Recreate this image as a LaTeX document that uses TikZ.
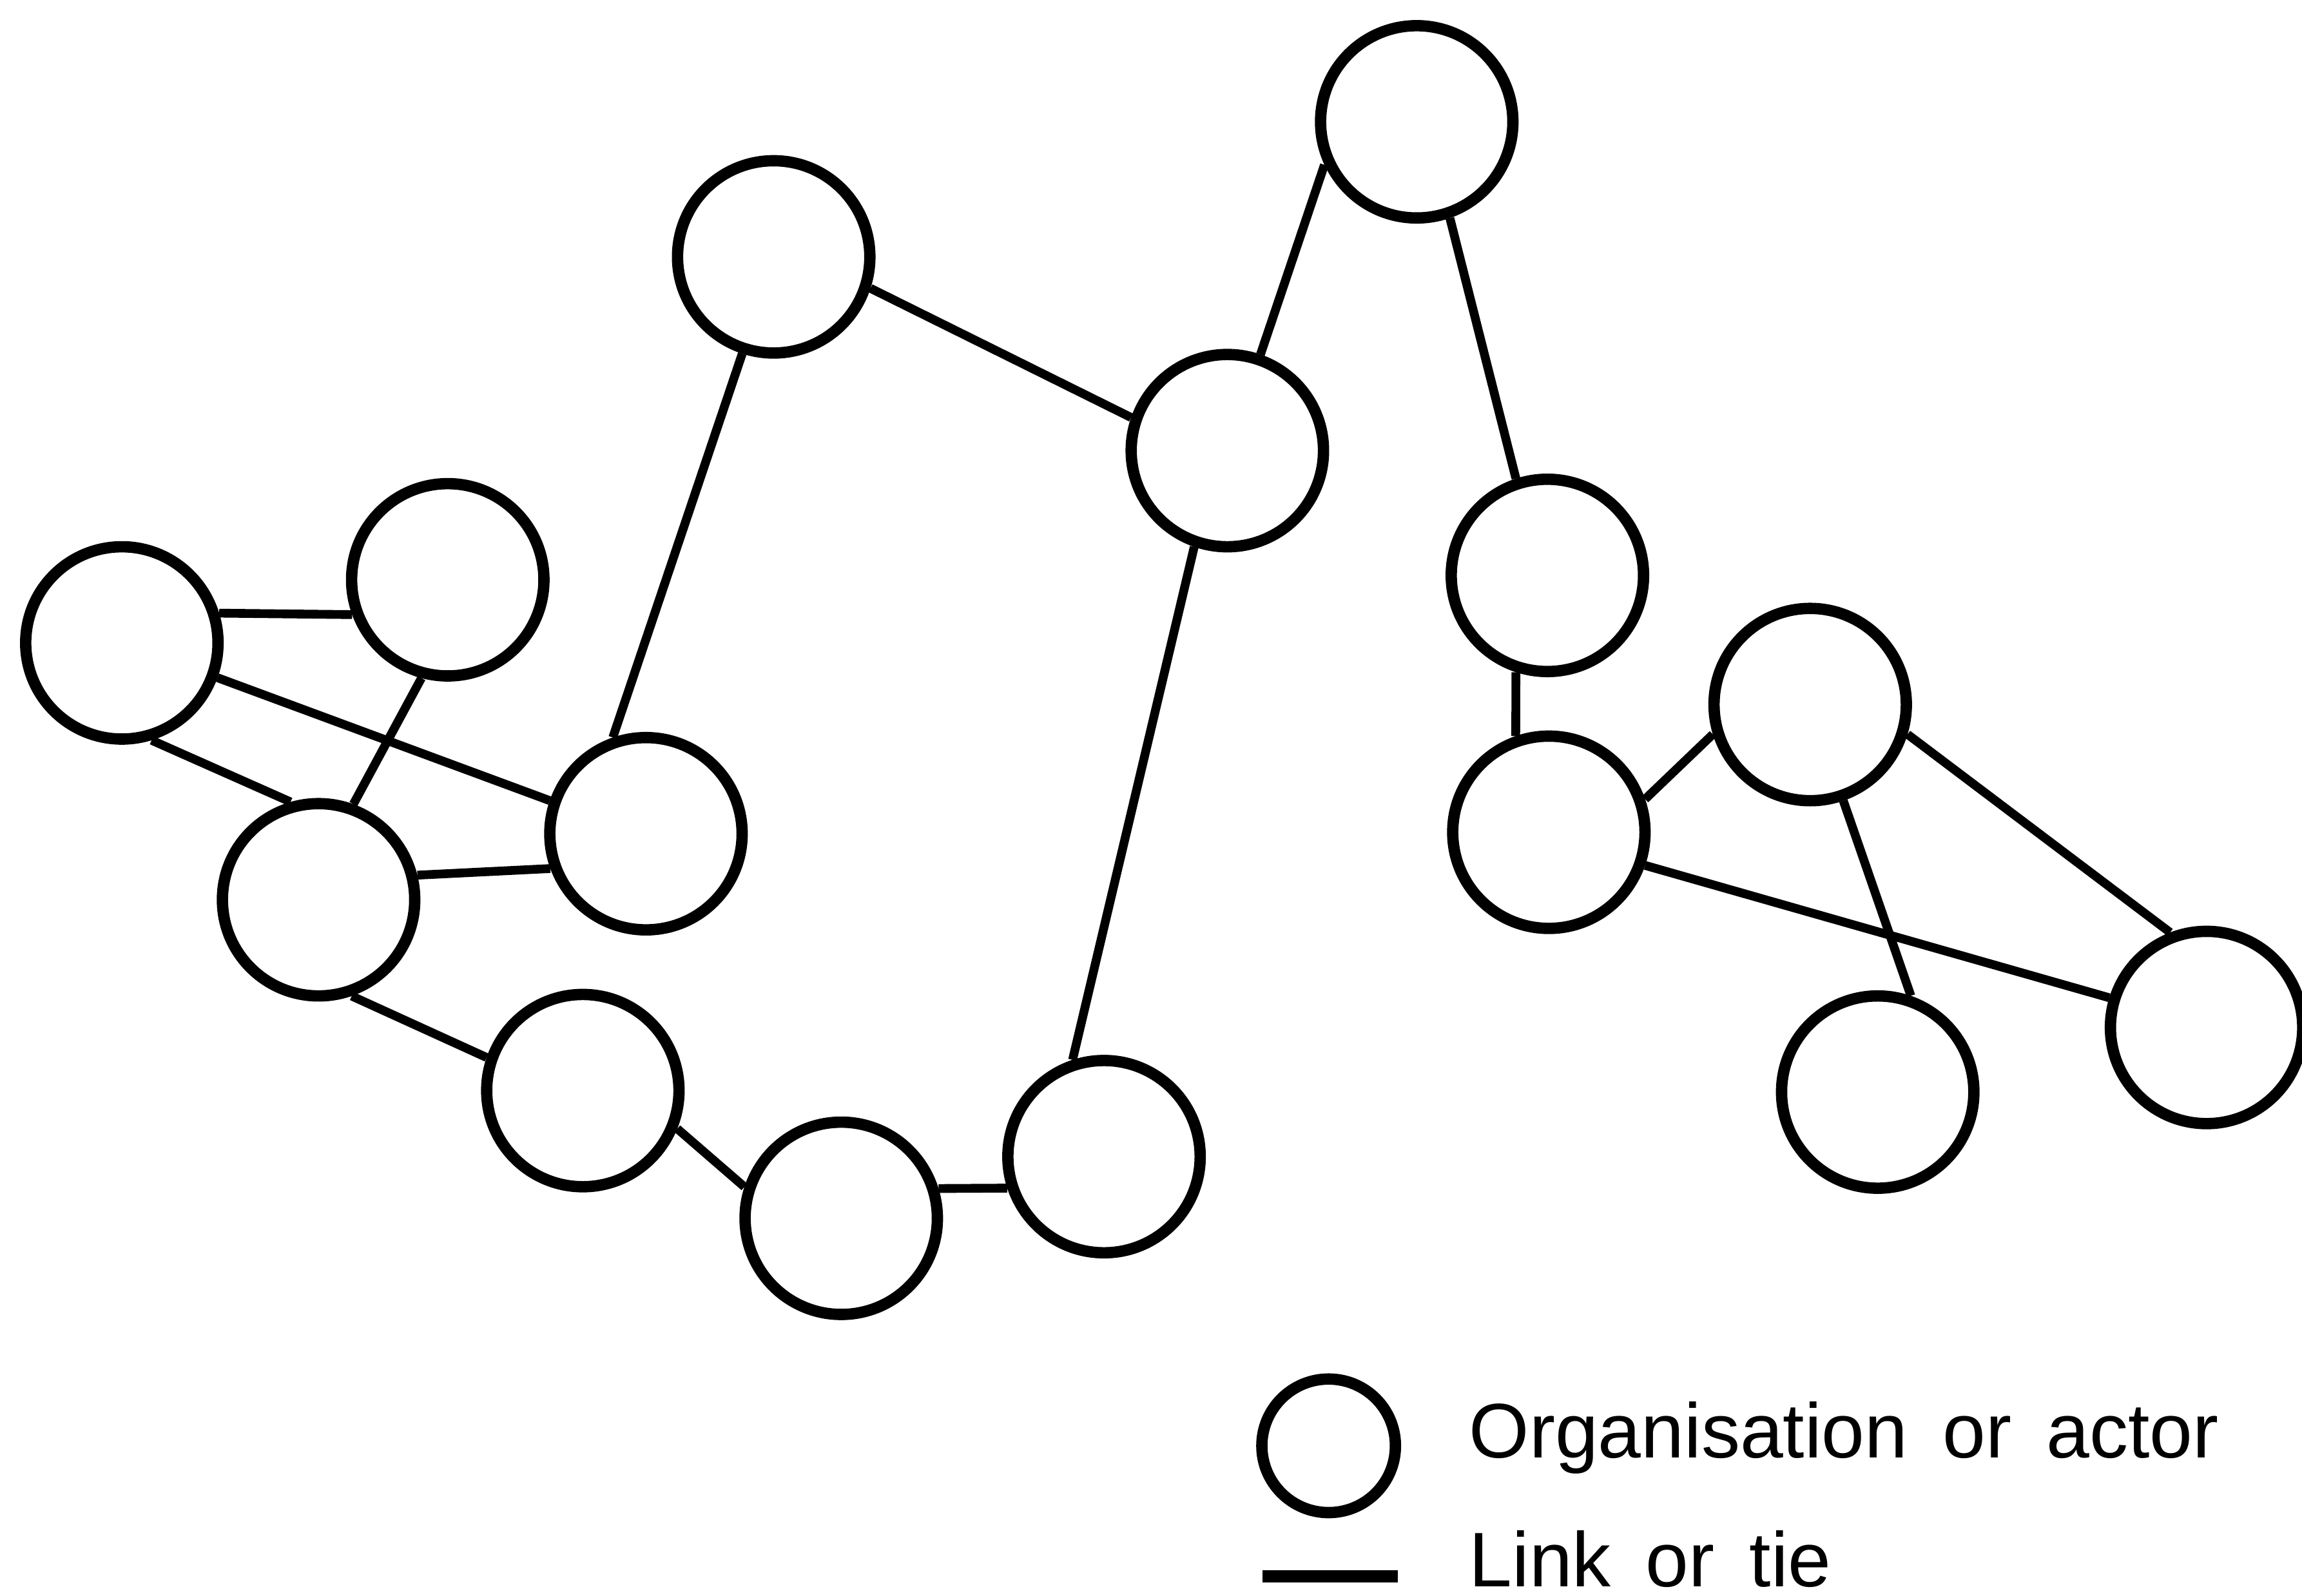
\documentclass[tikz,border=0pt]{standalone}
\usepackage{fontspec}
\setmainfont{Liberation Sans}
\newcommand\legschrift{\fontsize{15}{18}\selectfont\spaceskip=0.45em plus 0.1em\relax}
\begin{document}
\begin{tikzpicture}[x=0.1mm, y=-0.1mm,
        akteur/.style={circle, draw, line width=2.2pt, minimum size=13.1mm, inner sep=0pt},
        link/.style={line width=1.7pt},
        legende/.style={anchor=base west, inner sep=0pt, font=\legschrift}]
    % Rahmen
    \useasboundingbox (0,0) rectangle (1568,1087);

    % Akteure (Name/x/y)
    \foreach \n/\x/\y in {A/83/438, B/305/395, C/217/613, D/440/568, E/527/175,
                          F/836/307, G/965/83, H/1054/392, I/1055/567, J/1233/480,
                          K/1503/700, L/1279/744, M/397/743, N/573/830, O/752/788} {
        \node[akteur] (\n) at (\x,\y) {};
    }

    % Verbindungen (von/Winkel/nach/Winkel)
    \foreach \a/\wa/\b/\wb in {A/17/B/200, A/-20/D/161, A/-73/C/106, B/255/C/70,
                               C/14/D/200, C/-71/M/161, M/-22/N/162, N/17/O/198,
                               O/108/F/251, F/161/E/-18, E/252/D/109, F/71/G/205,
                               G/-71/H/108, H/252/I/109, I/19/J/197, I/-19/K/163,
                               J/-17/K/111, J/-71/L/71} {
        \draw[link] (\a.\wa) -- (\b.\wb);
    }

    % Legende
    \node[akteur, minimum size=9.1mm] (legkreis) at (905,985) {};
    \node[legende] (legakteur) at (1000,993) {Organisation or actor};
    \coordinate (leglinks) at (860,1074);
    \coordinate (legrechts) at (952,1074);
    \draw[line width=2.3pt] (leglinks) -- (legrechts);
    \node[legende] (leglink) at (1000,1081) {Link or tie};
\end{tikzpicture}
\end{document}
